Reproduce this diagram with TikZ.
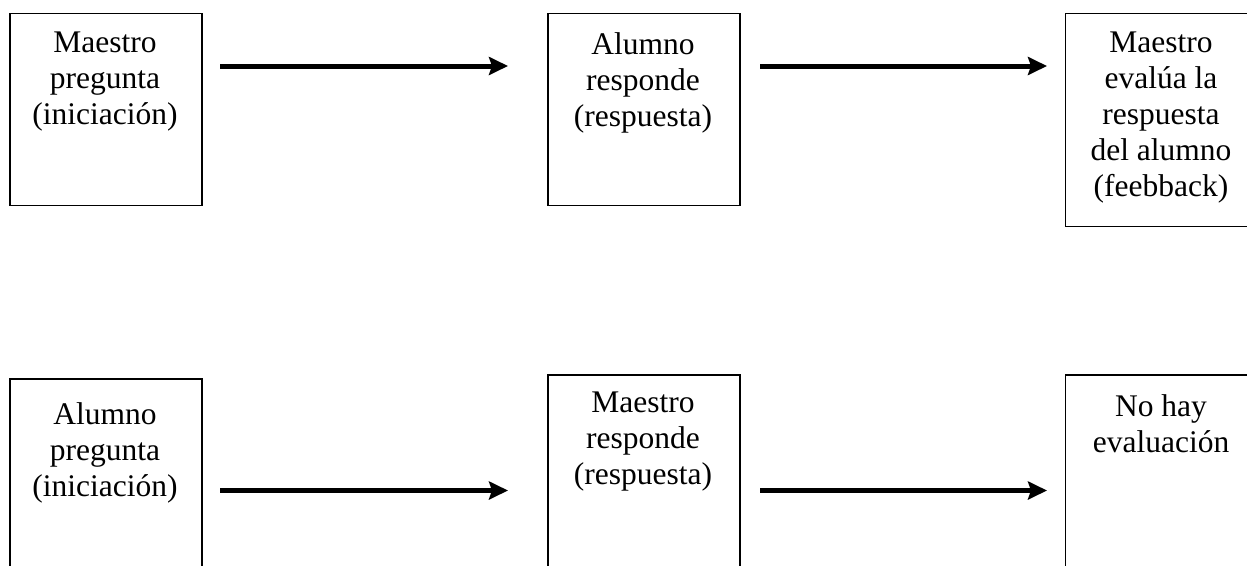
\documentclass[tikz,border=0pt]{standalone}
\usepackage{fontspec}
\setmainfont{Liberation Serif}
\usetikzlibrary{arrows.meta}
\begin{document}
\begin{tikzpicture}[x=1pt,y=-1pt,
  box/.style={draw=black, line width=1.6pt, anchor=north west, inner sep=0pt, minimum width=192pt},
  lbl/.style={anchor=north, inner sep=0pt, align=center, font=\fontsize{31.5}{36}\selectfont},
  arr/.style={line width=5pt, -{Stealth[length=19pt,width=18pt,inset=3pt]}}]
\useasboundingbox (0,0) rectangle (1247,565);
\clip (0,0) rectangle (1247,565);
\fill[white] (0,0) rectangle (1247,565);
% top row
\node[box, minimum height=192pt] (t1) at (9,12.5) {};
\node[box, minimum height=192pt] (t2) at (547,12.5) {};
\node[box, minimum width=194pt, minimum height=213pt] (t3) at (1064.5,12.5) {};
\node[lbl] (tl1) at (105,32) {Maestro\\pregunta\\(iniciación)};
\node[lbl] (tl2) at (643,32) {Alumno\\responde\\(respuesta)};
\node[lbl] (tl3) at (1161,32) {Maestro\\evalúa la\\respuesta\\del alumno\\(feebback)};
% bottom row
\node[box, minimum height=220pt] (b1) at (9,378) {};
\node[box, minimum height=220pt] (b2) at (547,374) {};
\node[box, minimum width=194pt, minimum height=220pt] (b3) at (1064.5,374) {};
\node[lbl] (bl1) at (105,402) {Alumno\\pregunta\\(iniciación)};
\node[lbl] (bl2) at (643,392) {Maestro\\responde\\(respuesta)};
\node[lbl] (bl3) at (1161,394) {No hay\\evaluación};
% arrows
\coordinate (a1s) at (220,66);
\coordinate (a1e) at (508,66);
\coordinate (a2s) at (760,66);
\coordinate (a2e) at (1047,66);
\coordinate (a3s) at (220,490.5);
\coordinate (a3e) at (508,490.5);
\coordinate (a4s) at (760,490.5);
\coordinate (a4e) at (1047,490.5);
\draw[arr] (a1s) -- (a1e);
\draw[arr] (a2s) -- (a2e);
\draw[arr] (a3s) -- (a3e);
\draw[arr] (a4s) -- (a4e);
\end{tikzpicture}
\end{document}
